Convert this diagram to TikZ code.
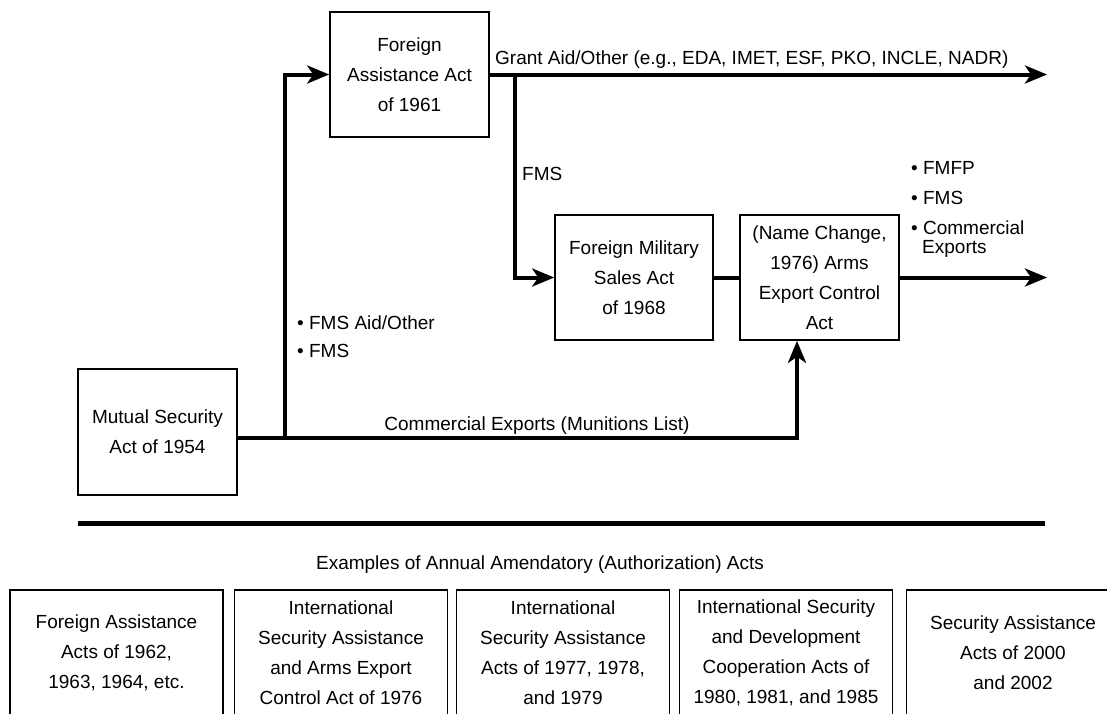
\documentclass[tikz,border=0pt]{standalone}
\usepackage{fontspec}
\setmainfont{Liberation Sans}
\usetikzlibrary{arrows.meta}
\begin{document}
\begin{tikzpicture}[x=1pt,y=-1pt,
  font=\fontsize{19}{30}\selectfont,
  box/.style={draw, line width=1.6pt, inner sep=0pt, align=center},
  topbox/.style={box, minimum width=159pt, minimum height=125pt},
  actbox/.style={box, minimum width=213pt, minimum height=126pt},
  conn/.style={line width=4pt},
  arr/.style={conn, -{Stealth[length=22pt,width=18pt,inset=6pt]}},
  lbl/.style={inner sep=0pt}]
\useasboundingbox (0,0) rectangle (1107,713);
\clip (0,0) rectangle (1107,713);
\fill[white] (0,0) rectangle (1107,713);

% main boxes
\node[topbox] (faa) at (409.5,74.5) {Foreign\\Assistance Act\\of 1961};
\node[topbox, minimum width=158pt] (fmsa) at (634,277.5) {Foreign Military\\Sales Act\\of 1968};
\node[topbox] (aeca) at (819.5,277.5) {(Name Change,\\1976) Arms\\Export Control\\Act};
\node[topbox, minimum height=126pt] (ms) at (157.5,432) {Mutual Security\\Act of 1954};

% helper coordinates
\coordinate (upx) at (797,438);
\coordinate (j1) at (285,438);
\coordinate (j2) at (515,75);
\coordinate (endx) at (1047,0);
\coordinate (r1) at (78,523);
\coordinate (r2) at (1045,523);

% connectors
\draw[arr] ([yshift=-6pt]ms.east) -- (upx) -- (aeca.south -| upx);
\draw[arr] (j1) |- (faa.west);
\draw[arr] (faa.east) -- (faa.east -| endx);
\draw[arr] (j2) |- (fmsa.west);
\draw[conn] (fmsa.east) -- (aeca.west);
\draw[arr] (aeca.east) -- (aeca.east -| endx);
\draw[line width=5pt] (r1) -- (r2);

% labels
\node[lbl, anchor=base west] (grant) at (495,64) {Grant Aid/Other (e.g., EDA, IMET, ESF, PKO, INCLE, NADR)};
\node[lbl, anchor=base west] (fmslbl) at (522,180) {FMS};
\node[lbl, anchor=base west] (aidb) at (297,329) {\textbullet\ FMS Aid/Other};
\node[lbl, anchor=base west] (fmsb) at (297,357) {\textbullet\ FMS};
\node[lbl, anchor=base] (comlbl) at (537,430) {Commercial Exports (Munitions List)};
\node[lbl, anchor=base west] (fmfp) at (911,174) {\textbullet\ FMFP};
\node[lbl, anchor=base west] (fmsr) at (911,204) {\textbullet\ FMS};
\node[lbl, anchor=base west] (comr) at (911,234) {\textbullet\ Commercial};
\node[lbl, anchor=base west] (expr) at (922,253) {Exports};
\node[lbl, anchor=base] (examples) at (540,569) {Examples of Annual Amendatory (Authorization) Acts};

% amendatory acts
\node[actbox] (a1) at (116.5,653) {Foreign Assistance\\Acts of 1962,\\1963, 1964, etc.};
\node[actbox] (a2) at (341,653) {International\\Security Assistance\\and Arms Export\\Control Act of 1976};
\node[actbox] (a3) at (563,653) {International\\Security Assistance\\Acts of 1977, 1978,\\and 1979};
\node[actbox] (a4) at (786,653) {International Security\\and Development\\Cooperation Acts of\\1980, 1981, and 1985};
\node[actbox] (a5) at (1013,653) {Security Assistance\\Acts of 2000\\and 2002};
\end{tikzpicture}
\end{document}
